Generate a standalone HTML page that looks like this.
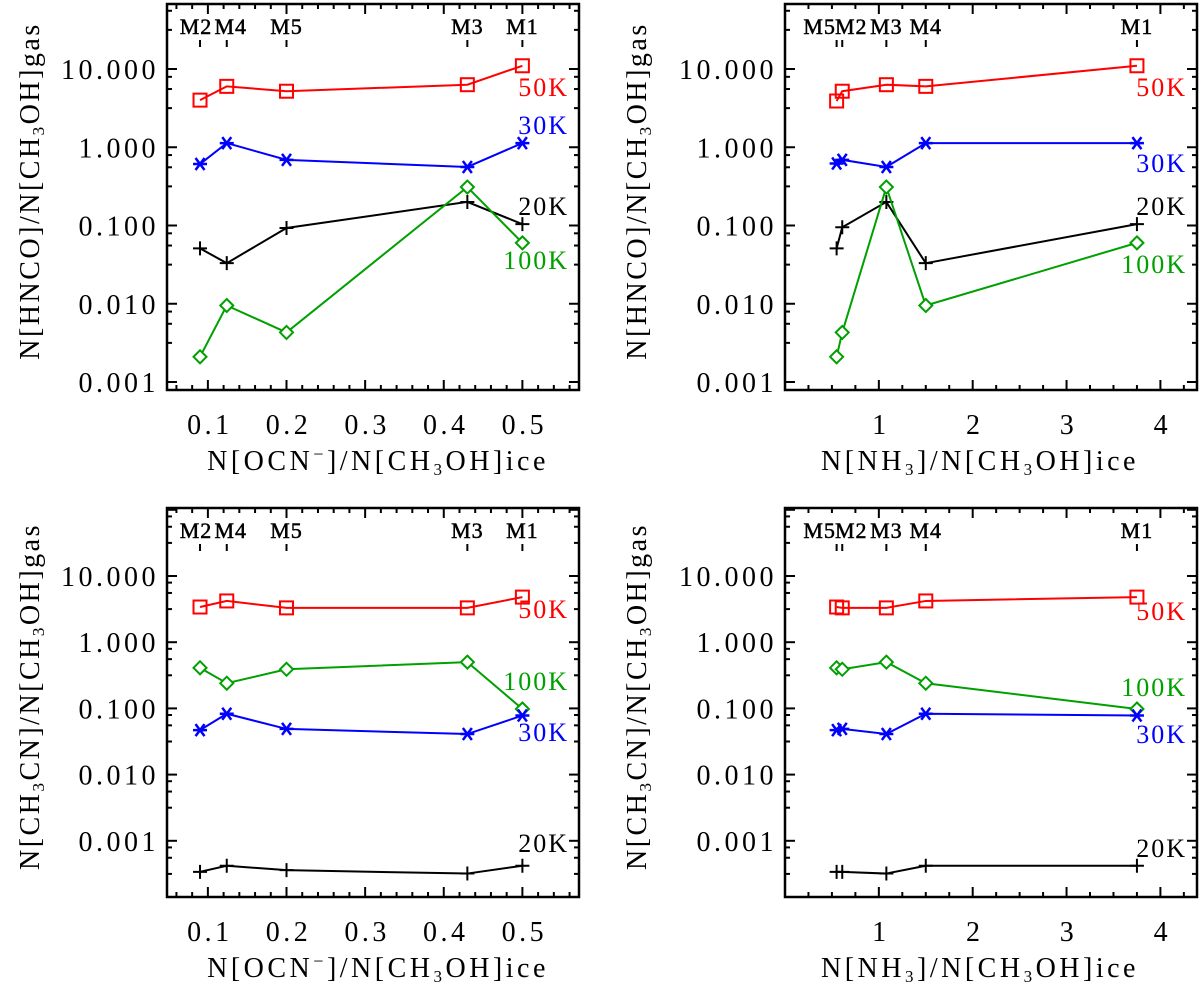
<!DOCTYPE html>
<html><head><meta charset="utf-8"><style>
html,body{margin:0;padding:0;background:#fff;}
svg{display:block;font-family:"Liberation Serif",serif;}
</style></head><body>
<svg id="fig" width="1200" height="985" viewBox="0 0 1200 985" xmlns="http://www.w3.org/2000/svg"></svg>
<script>
// ---- data ----
const ocnX = [0.09, 0.124, 0.2, 0.43, 0.5];           // M2 M4 M5 M3 M1
const ocnNames = ["M2","M4","M5","M3","M1"];
const nh3X = [0.55, 0.61, 1.08, 1.5, 3.75];            // M5 M2 M3 M4 M1
const nh3Names = ["M5","M2","M3","M4","M1"];

const hncoOcn50 = [4.0, 6.0, 5.2, 6.3, 11];
const hncoOcn30 = [0.61, 1.13, 0.69, 0.56, 1.13];
const hncoOcn20 = [0.051, 0.033, 0.093, 0.20, 0.104];
const hncoOcn100 = [0.0021, 0.0095, 0.0043, 0.31, 0.060];

const hncoNh350 = [3.9, 5.2, 6.3, 6.0, 11];
const hncoNh330 = [0.62, 0.69, 0.56, 1.13, 1.13];
const hncoNh320 = [0.051, 0.095, 0.20, 0.033, 0.104];
const hncoNh3100 = [0.0021, 0.0043, 0.31, 0.0095, 0.060];

const ch3cnOcn50 = [3.4, 4.2, 3.3, 3.3, 4.8];
const ch3cnOcn100 = [0.41, 0.24, 0.39, 0.50, 0.098];
const ch3cnOcn30 = [0.047, 0.083, 0.049, 0.041, 0.078];
const ch3cnOcn20 = [0.00034, 0.00042, 0.00036, 0.00032, 0.00042];

const ch3cnNh350 = [3.4, 3.3, 3.3, 4.2, 4.8];
const ch3cnNh3100 = [0.41, 0.39, 0.50, 0.24, 0.098];
const ch3cnNh330 = [0.047, 0.049, 0.041, 0.083, 0.078];
const ch3cnNh320 = [0.00034, 0.00034, 0.00032, 0.00042, 0.00042];

const yTickVals = [10, 1, 0.1, 0.01, 0.001];
const yTickLabels = ["10.000","1.000","0.100","0.010","0.001"];
const ocnTicks = [0.1, 0.2, 0.3, 0.4, 0.5];
const ocnTickLabels = ["0.1","0.2","0.3","0.4","0.5"];
const nh3Ticks = [1, 2, 3, 4];
const nh3TickLabels = ["1","2","3","4"];

const NS = "http://www.w3.org/2000/svg";
const svg = document.getElementById("fig");
function mk(tag, attrs, parent) {
  const e = document.createElementNS(NS, tag);
  for (const k in attrs) e.setAttribute(k, attrs[k]);
  (parent || svg).appendChild(e);
  return e;
}
const COL = {red:"#ff0000", blue:"#0000ff", black:"#000000", green:"#00a000"};

function panel(p) {
  const g = mk("g", {});
  
  
  const L = p.left, R = p.left + 412, T = p.top, B = p.bottom;
  const xS = v => L + (v - p.xmin) / (p.xmax - p.xmin) * (R - L);
  const yS = v => p.y10 + (1 - Math.log10(v)) * p.dec;
  const fr = mk("rect", {x:L, y:T, width:R-L, height:B-T, fill:"none", stroke:"#000", "stroke-width":2.5}, g);
  
  
  const yt = mk("g", {}, g);
  
  
  for (let d = 2; d >= -4; d--) {
    const offs = [0, 0.1, 0.256, 0.5];
    offs.forEach((o, i) => {
      const y = yS(Math.pow(10, d - o));
      if (y < T + 1 || y > B - 1) return;
      const len = i === 0 ? 10 : 5;
      mk("line", {x1:L, x2:L+len, y1:y, y2:y, stroke:"#000", "stroke-width":2}, yt);
      mk("line", {x1:R, x2:R-len, y1:y, y2:y, stroke:"#000", "stroke-width":2}, yt);
    });
  }
  yTickVals.forEach((v, i) => {
    const t = mk("text", {x:L-8, y:yS(v)+10, "text-anchor":"end", "font-size":28, "letter-spacing":3.5}, yt);
    t.textContent = yTickLabels[i];
    
    
  });
  const xt = mk("g", {}, g);
  
  
  for (let v = p.minorStart; v <= p.xmax + 1e-9; v += p.minor) {
    const x = xS(v);
    if (x < L + 1 || x > R - 1) continue;
    const isMaj = Math.abs(v / p.major - Math.round(v / p.major)) < 1e-6;
    const len = isMaj ? 10 : 5;
    mk("line", {x1:x, x2:x, y1:B, y2:B-len, stroke:"#000", "stroke-width":2}, xt);
    mk("line", {x1:x, x2:x, y1:T, y2:T+len, stroke:"#000", "stroke-width":2}, xt);
  }
  p.xTicks.forEach((v, i) => {
    const t = mk("text", {x:xS(v)+2, y:B+44, "text-anchor":"middle", "font-size":28, "letter-spacing":3.5}, xt);
    t.textContent = p.xTickLabels[i];
    
    
  });
  p.xs.forEach((v, i) => {
    const x = xS(v);
    mk("line", {x1:x, x2:x, y1:T+36, y2:T+43, stroke:"#000", "stroke-width":2}, g);
    if (p.dup && i === 1) mk("line", {x1:xS(p.xs[0]), x2:xS(p.xs[0]), y1:T+36, y2:T+43, stroke:"#000", "stroke-width":2}, g);
    const t = mk("text", {x:x + (p.labelDx ? p.labelDx[i] : 0), y:T+30, "text-anchor":"middle", "font-size":22, "letter-spacing":1, stroke:"#000", "stroke-width":0.5}, g);
    t.textContent = p.names[i];
    
    
  });
  const xtl = mk("text", {x:p.xTitleX, y:B+80, "text-anchor":"middle", "font-size":28, "letter-spacing":3.5}, g);
  xtl.innerHTML = p.xTitle;
  
  
  const ytl = mk("text", {x:0, y:0, "text-anchor":"middle", "font-size":28, "letter-spacing":2.5,
    transform:`translate(${p.yTitleX + 9},${(T+B)/2 - 6}) rotate(-90)`}, g);
  ytl.innerHTML = p.yTitle;
  
  
  p.series.forEach(s => {
    const sg = mk("g", {}, g);
    
    
    const c = COL[s.color];
    const pts = s.vals.map((v, i) => [xS(p.xs[i]), yS(v)]);
    mk("polyline", {points: pts.map(q => q.join(",")).join(" "), fill:"none", stroke:c, "stroke-width":2}, sg);
    pts.forEach(([x, y]) => {
      let m;
      if (s.marker === "square") m = mk("rect", {x:x-6.5, y:y-6.5, width:13, height:13, fill:"none", stroke:c, "stroke-width":2}, sg);
      else if (s.marker === "diamond") m = mk("polygon", {points:`${x},${y-6.5} ${x+6.5},${y} ${x},${y+6.5} ${x-6.5},${y}`, fill:"#fff", stroke:c, "stroke-width":2}, sg);
      else if (s.marker === "plus") m = mk("path", {d:`M${x-7},${y}H${x+7}M${x},${y-7}V${y+7}`, stroke:c, "stroke-width":2}, sg);
      else m = mk("path", {d:`M${x-7},${y}H${x+7}M${x-4.5},${y-6}L${x+4.5},${y+6}M${x+4.5},${y-6}L${x-4.5},${y+6}`, stroke:c, "stroke-width":2.5}, sg);
      
      
    });
    const lt = mk("text", {x:R-10, y:s.ly, "text-anchor":"end", "font-size":26, "letter-spacing":2, fill:c}, sg);
    lt.textContent = s.label;
    
    
  });
}
const sub3 = '<tspan font-size="17" dy="5">3</tspan><tspan dy="-5">';
const yHNCO = `N[HNCO]/N[CH${sub3}OH]gas</tspan>`;
const yCH3CN = `N[CH${sub3}CN]/N[CH${sub3}OH]gas</tspan></tspan>`;
const xOCN = `N[OCN<tspan font-size="18" dy="-10">−</tspan><tspan dy="10">]/N[CH</tspan>${sub3}OH]ice</tspan>`;
const xNH3 = `N[NH${sub3}]/N[CH${sub3}OH]ice</tspan></tspan>`;

const ocnBase = {left:167, xmin:0.048, xmax:0.572, minor:0.02, minorStart:0.06, major:0.1, xTicks:ocnTicks, xTickLabels:ocnTickLabels, xs:ocnX, names:ocnNames, xTitle:xOCN, xTitleX:378, yTitleX:30, labelDx:[-4,4,0,0,0]};
const nh3Base = {left:785, xmin:0, xmax:4.39, minor:0.25, minorStart:0.25, major:1, xTicks:nh3Ticks, xTickLabels:nh3TickLabels, xs:nh3X, names:nh3Names, xTitle:xNH3, xTitleX:980, yTitleX:637, labelDx:[-17,9,0,0,0]};
const topY = {top:4, bottom:390, y10:69, dec:78.25};
const botY = {top:508, bottom:897, y10:576, dec:66.2};

panel(Object.assign({}, ocnBase, topY, {name:"panel-hnco-vs-ocn", yTitle:yHNCO, series:[
  {label:"50K", color:"red", marker:"square", vals:hncoOcn50, ly:96},
  {label:"30K", color:"blue", marker:"asterisk", vals:hncoOcn30, ly:134},
  {label:"20K", color:"black", marker:"plus", vals:hncoOcn20, ly:215},
  {label:"100K", color:"green", marker:"diamond", vals:hncoOcn100, ly:269}]}));
panel(Object.assign({}, nh3Base, topY, {name:"panel-hnco-vs-nh3", yTitle:yHNCO, series:[
  {label:"50K", color:"red", marker:"square", vals:hncoNh350, ly:96},
  {label:"30K", color:"blue", marker:"asterisk", vals:hncoNh330, ly:172},
  {label:"20K", color:"black", marker:"plus", vals:hncoNh320, ly:215},
  {label:"100K", color:"green", marker:"diamond", vals:hncoNh3100, ly:273}]}));
panel(Object.assign({}, ocnBase, botY, {name:"panel-ch3cn-vs-ocn", yTitle:yCH3CN, series:[
  {label:"50K", color:"red", marker:"square", vals:ch3cnOcn50, ly:618},
  {label:"100K", color:"green", marker:"diamond", vals:ch3cnOcn100, ly:690},
  {label:"30K", color:"blue", marker:"asterisk", vals:ch3cnOcn30, ly:741},
  {label:"20K", color:"black", marker:"plus", vals:ch3cnOcn20, ly:852}]}));
panel(Object.assign({}, nh3Base, botY, {name:"panel-ch3cn-vs-nh3", yTitle:yCH3CN, series:[
  {label:"50K", color:"red", marker:"square", vals:ch3cnNh350, ly:620},
  {label:"100K", color:"green", marker:"diamond", vals:ch3cnNh3100, ly:696},
  {label:"30K", color:"blue", marker:"asterisk", vals:ch3cnNh330, ly:743},
  {label:"20K", color:"black", marker:"plus", vals:ch3cnNh320, ly:857}]}));
</script>
</body></html>
